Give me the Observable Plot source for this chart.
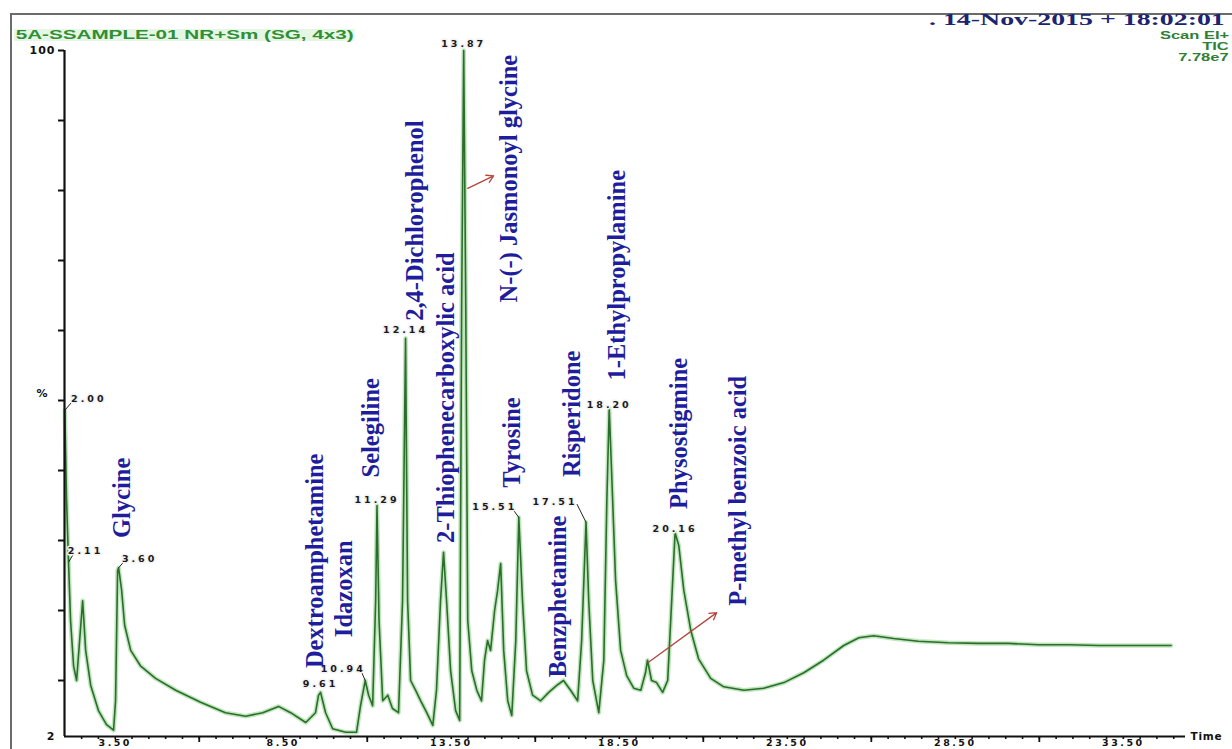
<!DOCTYPE html>
<html>
<head>
<meta charset="utf-8">
<script src="https://cdn.jsdelivr.net/npm/d3@7"></script>
<script src="https://cdn.jsdelivr.net/npm/@observablehq/plot@0.6"></script>
<style>
html, body { margin: 0; padding: 0; background: #fff; overflow: hidden; width: 1232px; height: 749px; }
#wrap { position: relative; width: 1232px; height: 749px; overflow: hidden; }
#frame { position: absolute; left: 10px; top: 13px; width: 1400px; height: 900px; border-top: 2px solid #6b6b6b; border-left: 2px solid #6b6b6b; }
.hdr { position: absolute; white-space: nowrap; font-weight: bold; }
#sample { left: 14px; top: 29px; font: bold 12px "Liberation Sans", Arial, sans-serif; line-height: 12px; color: #2f8f35; background: #e6f6e4; transform: scaleX(1.72); transform-origin: 0 0; padding: 0 1px; }
#date { left: 929px; top: 12px; font: bold 16px "Liberation Serif", serif; line-height: 16px; color: #1c2470; transform: scaleX(1.74); transform-origin: 0 0; }
.rt { right: 3px; font: bold 11px "Liberation Sans", Arial, sans-serif; line-height: 11px; color: #2f7f35; transform: scaleX(1.5); transform-origin: 100% 0; text-align: right; }
#plot { position: absolute; left: 0; top: 0; }
#plot [aria-description="peak"] text { font-family: "DejaVu Sans", sans-serif; letter-spacing: 3px; }
#plot [aria-description="xlabel"] text { font-family: "DejaVu Sans", sans-serif; letter-spacing: 2.5px; }
#plot [aria-description="ylabel"] text { font-family: "DejaVu Sans", sans-serif; letter-spacing: 1px; }
#plot [aria-description="unit"] text { font-family: "DejaVu Sans", sans-serif; letter-spacing: 0.8px; }
</style>
</head>
<body>
<div id="wrap">
  <div id="frame"></div>
  <div id="plot"></div>
  <div id="sample" class="hdr"></div>
  <div id="date" class="hdr"></div>
  <div id="scan" class="hdr rt" style="top:30px"></div>
  <div id="tic" class="hdr rt" style="top:41px"></div>
  <div id="scale" class="hdr rt" style="top:52px"></div>
</div>
<script>
// ---- header texts ----
const sampleTitle = "5A-SSAMPLE-01 NR+Sm (SG, 4x3)";
const runDate = ". 14-Nov-2015 + 18:02:01";
const scanInfo = ["Scan EI+", "TIC", "7.78e7"];
const yUnit = "%";
const xUnit = "Time";

// ---- chromatogram trace (retention time, min / relative intensity, %) ----
const times = [2.00, 2.05, 2.11, 2.17, 2.26, 2.35, 2.44, 2.53, 2.62, 2.77,
  3.00, 3.24, 3.45, 3.51, 3.57, 3.60, 3.69, 3.78, 3.96, 4.25,
  4.70, 5.30, 6.04, 6.78, 7.38, 7.89, 8.36, 8.72, 9.17, 9.46,
  9.55, 9.61, 9.76, 9.97, 10.36, 10.68, 10.80, 10.94, 11.04, 11.16,
  11.25, 11.29, 11.35, 11.46, 11.61, 11.75, 11.93, 12.05, 12.14, 12.20,
  12.29, 12.44, 12.59, 12.77, 12.95, 13.06, 13.18, 13.27, 13.36, 13.48,
  13.63, 13.75, 13.81, 13.87, 13.93, 13.99, 14.11, 14.26, 14.40, 14.49,
  14.58, 14.67, 14.79, 14.88, 14.97, 15.06, 15.18, 15.30, 15.42, 15.51,
  15.62, 15.74, 15.92, 16.16, 16.40, 16.64, 16.84, 17.05, 17.26, 17.38,
  17.51, 17.59, 17.71, 17.89, 18.04, 18.13, 18.20, 18.27, 18.39, 18.54,
  18.72, 18.93, 19.14, 19.28, 19.34, 19.46, 19.61, 19.79, 19.94, 20.06,
  20.16, 20.27, 20.42, 20.63, 20.86, 21.22, 21.61, 22.21, 22.80, 23.40,
  23.99, 24.58, 25.18, 25.63, 26.07, 26.66, 27.40, 28.29, 29.19, 30.08,
  30.98, 31.88, 32.77, 33.67, 34.92];
const intensity = [48.6, 36.0, 26.9, 18.6, 12.1, 10.0, 15.7, 21.4, 14.3, 9.3,
  5.7, 3.7, 2.9, 7.1, 25.7, 26.1, 22.9, 17.9, 14.3, 12.1,
  10.3, 8.6, 6.9, 5.4, 4.9, 5.4, 6.3, 5.4, 4.0, 5.4,
  7.9, 8.3, 5.4, 3.1, 2.6, 2.6, 6.4, 10.0, 7.9, 6.4,
  21.4, 35.0, 18.6, 7.1, 7.9, 6.0, 5.4, 21.4, 58.9, 21.4,
  10.0, 8.6, 7.1, 5.4, 3.6, 8.6, 21.4, 28.3, 21.4, 11.4,
  5.7, 4.3, 64.3, 100, 64.3, 18.6, 11.4, 8.6, 7.1, 12.9,
  15.7, 14.3, 20.0, 22.9, 26.7, 14.3, 7.1, 5.0, 15.7, 33.3,
  21.4, 11.4, 7.9, 7.1, 8.3, 9.3, 10.0, 8.6, 7.1, 15.7,
  32.6, 21.4, 10.0, 5.4, 12.9, 35.7, 48.9, 40.0, 24.3, 14.3,
  10.7, 8.9, 8.6, 11.1, 12.9, 10.0, 9.7, 8.3, 10.0, 21.4,
  31.1, 29.3, 22.9, 17.1, 13.1, 10.3, 9.1, 8.6, 8.9, 9.7,
  11.1, 12.9, 15.0, 16.1, 16.4, 16.0, 15.6, 15.4, 15.3, 15.3,
  15.1, 15.1, 15.0, 15.0, 15.0];

// ---- labelled peaks ----
const peakTimes = [2.00, 2.11, 3.60, 9.61, 10.94, 11.29, 12.14, 13.87, 15.51, 17.51, 18.20, 20.16];
const peakHeights = [48.6, 26.9, 26.1, 8.3, 10.0, 35.0, 58.9, 100, 33.3, 32.6, 48.9, 31.1];
const peakTexts = ["2.00", "2.11", "3.60", "9.61", "10.94", "11.29", "12.14", "13.87", "15.51", "17.51", "18.20", "20.16"];

// ---- identified compounds (annotation anchors in time / %) ----
const compoundNames = ["Glycine", "Dextroamphetamine", "Idazoxan", "Selegiline", "2,4-Dichlorophenol",
  "2-Thiophenecarboxylic acid", "N-(-) Jasmonoyl glycine", "Tyrosine", "Benzphetamine", "Risperidone",
  "1-Ethylpropylamine", "Physostigmine", "P-methyl benzoic acid"];
const compoundTimes = [3.72, 9.46, 10.30, 11.13, 12.44, 13.36, 15.21, 15.30, 16.67, 17.11, 18.45, 20.27, 22.05];
const compoundPct = [36.1, 27.1, 23.1, 46.1, 75.7, 50.4, 81.7, 44.0, 22.0, 48.1, 67.9, 45.3, 37.1];

// ---- pointer arrows (from time,% to time,%) ----
const arrowFromT = [13.99, 19.37];
const arrowFromP = [80.3, 12.6];
const arrowToT = [14.76, 21.40];
const arrowToP = [82.1, 19.7];

// ---- peak-label leader lines ----
const leaderFromT = [2.00, 2.11, 3.60, 10.94, 15.51, 17.51];
const leaderFromP = [48.6, 26.9, 26.1, 10.0, 33.3, 32.6];
const leaderToT = [2.23, 2.26, 3.78, 10.82, 15.34, 17.24];
const leaderToP = [49.9, 28.1, 27.1, 11.3, 34.4, 35.2];

// ---- axis ticks ----
const xLabelTicks = [3.5, 8.5, 13.5, 18.5, 23.5, 28.5, 33.5];
const xTickLabels = ["3.50", "8.50", "13.50", "18.50", "23.50", "28.50", "33.50"];
const xMajorTicks = [6, 11, 16, 21, 26, 31];
const xMinorTicks = d3.range(2.5, 35.01, 0.5);
const yTicks = [10, 20, 30, 40, 50, 60, 70, 80, 90, 100];
const yLabelTicks = [2, 100];
const yTickLabels = ["2", "100"];

// ---- build tables ----
const trace = times.map((t, i) => ({t, p: intensity[i]}));
const peaks = peakTimes.map((t, i) => ({t, p: peakHeights[i], label: peakTexts[i]}));
const compounds = compoundNames.map((name, i) => ({name, t: compoundTimes[i], p: compoundPct[i]}));
const arrows = arrowFromT.map((t, i) => ({t1: t, p1: arrowFromP[i], t2: arrowToT[i], p2: arrowToP[i]}));
const leaders = leaderFromT.map((t, i) => ({t1: t, p1: leaderFromP[i], t2: leaderToT[i], p2: leaderToP[i]}));
const xLabels = xLabelTicks.map((t, i) => ({t, label: xTickLabels[i]}));
const yLabels = yLabelTicks.map((p, i) => ({p, label: yTickLabels[i]}));

// layout offsets (px) for peak labels
const peakOffsets = [[24, -11], [17, -11], [21, -9], [0, -8], [-22, -12], [0, -6], [0, -8], [0, -7], [-24, -10], [-31, -20], [0, -3], [0, -4]];

const xDomain = [1.99, 35.35];

const marks = [
  Plot.line(trace, {x: "t", y: "p", stroke: "#a9dca6", strokeWidth: 4.5, strokeOpacity: 0.75, curve: "linear"}),
  Plot.line(trace, {x: "t", y: "p", stroke: "#2b6d2b", strokeWidth: 1.6, curve: "linear"}),
  Plot.ruleX([xDomain[0]], {y1: 2, y2: 100, stroke: "#111", strokeWidth: 2.2}),
  Plot.ruleY([2], {x1: xDomain[0], x2: xDomain[1], stroke: "#111", strokeWidth: 2.2}),
  Plot.axisY({ticks: yTicks, tickSize: 6, strokeWidth: 2, tickFormat: () => "", label: null}),
  Plot.axisX({ticks: xMinorTicks, tickSize: 3, strokeWidth: 1.6, tickFormat: () => "", label: null}),
  Plot.axisX({ticks: xMajorTicks, tickSize: 6, strokeWidth: 1.8, tickFormat: () => "", label: null}),
  Plot.text(xLabels, {x: "t", y: 2, text: "label", dy: 3, lineAnchor: "top", fontSize: 9.5, ariaDescription: "xlabel"}),
  Plot.text(yLabels, {x: xDomain[0], y: "p", text: "label", dx: -9, textAnchor: "end", fontSize: 11, ariaDescription: "ylabel"}),
  Plot.text([yUnit], {x: xDomain[0], y: 51, text: d => d, dx: -22, fontSize: 11, ariaDescription: "unit"}),
  Plot.text([xUnit], {x: xDomain[1], y: 2, text: d => d, dx: 5, textAnchor: "start", fontSize: 10.5, ariaDescription: "unit"}),
  Plot.link(leaders, {x1: "t1", y1: "p1", x2: "t2", y2: "p2", stroke: "#222", strokeWidth: 1}),
  ...peaks.map((pk, i) => Plot.text([pk], {x: "t", y: "p", text: "label", dx: peakOffsets[i][0], dy: peakOffsets[i][1],
    fontSize: 9.5, fill: "#1a1a1a", stroke: "#f2f2f2", strokeWidth: 3, ariaDescription: "peak"})),
  Plot.arrow(arrows, {x1: "t1", y1: "p1", x2: "t2", y2: "p2", stroke: "#b4463c", strokeWidth: 1.3, headLength: 9}),
  Plot.text(compounds, {x: "t", y: "p", text: "name", rotate: -90, fontSize: 24.5,
    fontFamily: "Liberation Serif", fontWeight: "bold", fill: "#1e1e9c", ariaDescription: "compound"})
];

const svg = Plot.plot({
  width: 1232,
  height: 749,
  marginLeft: 64,
  marginRight: 47,
  marginTop: 50,
  marginBottom: 13,
  x: {domain: xDomain, label: null},
  y: {domain: [2, 100], label: null},
  style: {fontFamily: "Liberation Sans, Arial, sans-serif", fontWeight: "bold", color: "#111", background: "transparent", overflow: "visible"},
  marks
});

document.getElementById("plot").appendChild(svg);
document.getElementById("sample").textContent = sampleTitle;
document.getElementById("date").textContent = runDate;
document.getElementById("scan").textContent = scanInfo[0];
document.getElementById("tic").textContent = scanInfo[1];
document.getElementById("scale").textContent = scanInfo[2];
</script>
</body>
</html>
